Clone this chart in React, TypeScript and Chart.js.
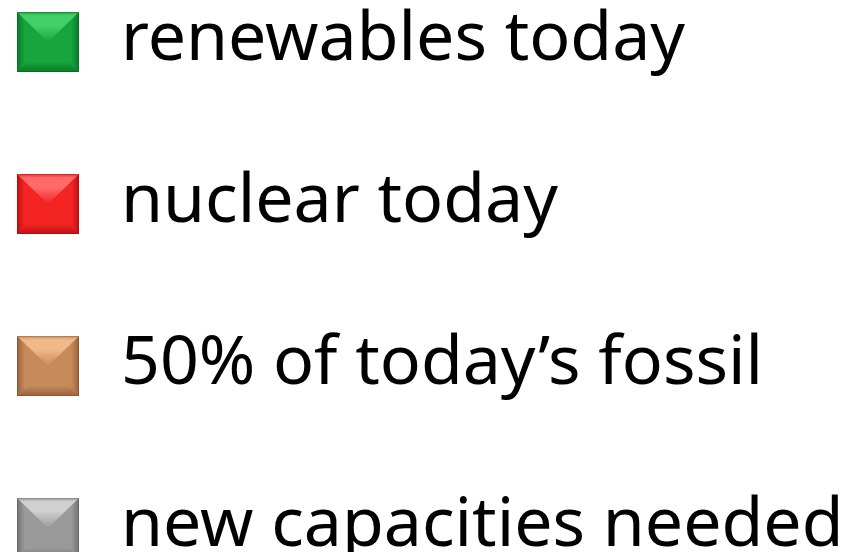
import { useEffect, useRef } from "react";
import { Chart, registerables } from "chart.js";

Chart.register(...registerables);

// Legend entries (the reference shows only the legend of the chart)
const seriesLabels = [
  "renewables today",
  "nuclear today",
  "50% of today’s fossil",
  "new capacities needed",
];
const baseColors = ["#18a53d", "#f42424", "#c78a5a", "#9a9a9a"];
const lightColors = ["#45cf69", "#ff6a6a", "#efb98b", "#d0d0d0"];
const darkColors = ["#0a7a28", "#bf1010", "#9a623a", "#737373"];
const categories: string[] = [""];

function makeBevel(base: string, light: string, dark: string): HTMLCanvasElement {
  const c = document.createElement("canvas");
  c.width = 62;
  c.height = 80;
  const ctx = c.getContext("2d") as CanvasRenderingContext2D;
  const x0 = 0;
  const y0 = 11;
  const w = 62;
  const h = 60;
  const cx = x0 + w / 2;
  const cy = y0 + h / 2;
  ctx.fillStyle = base;
  ctx.fillRect(x0, y0, w, h);

  // left facet
  let g = ctx.createLinearGradient(x0, 0, cx, 0);
  g.addColorStop(0, dark);
  g.addColorStop(0.25, base);
  g.addColorStop(1, base);
  ctx.beginPath();
  ctx.moveTo(x0, y0);
  ctx.lineTo(cx, cy);
  ctx.lineTo(x0, y0 + h);
  ctx.closePath();
  ctx.fillStyle = g;
  ctx.fill();

  // right facet
  g = ctx.createLinearGradient(x0 + w, 0, cx, 0);
  g.addColorStop(0, dark);
  g.addColorStop(0.25, base);
  g.addColorStop(1, base);
  ctx.beginPath();
  ctx.moveTo(x0 + w, y0);
  ctx.lineTo(cx, cy);
  ctx.lineTo(x0 + w, y0 + h);
  ctx.closePath();
  ctx.fillStyle = g;
  ctx.fill();

  // top facet (highlight)
  g = ctx.createLinearGradient(0, y0, 0, cy);
  g.addColorStop(0, base);
  g.addColorStop(0.12, light);
  g.addColorStop(0.45, light);
  g.addColorStop(1, base);
  ctx.beginPath();
  ctx.moveTo(x0, y0);
  ctx.lineTo(x0 + w, y0);
  ctx.lineTo(cx, cy);
  ctx.closePath();
  ctx.fillStyle = g;
  ctx.fill();

  // bottom facet (shadow)
  g = ctx.createLinearGradient(0, cy, 0, y0 + h);
  g.addColorStop(0, base);
  g.addColorStop(0.65, base);
  g.addColorStop(1, dark);
  ctx.beginPath();
  ctx.moveTo(x0, y0 + h);
  ctx.lineTo(x0 + w, y0 + h);
  ctx.lineTo(cx, cy);
  ctx.closePath();
  ctx.fillStyle = g;
  ctx.fill();

  // soft rim
  ctx.strokeStyle = "rgba(0,0,0,0.12)";
  ctx.lineWidth = 1;
  ctx.strokeRect(x0 + 0.5, y0 + 0.5, w - 1, h - 1);
  return c;
}

export default function App() {
  const ref = useRef<HTMLCanvasElement | null>(null);

  useEffect(() => {
    if (!ref.current) return;
    const images = seriesLabels.map((_, i) =>
      makeBevel(baseColors[i], lightColors[i], darkColors[i])
    );
    const chart = new Chart(ref.current, {
      type: "bar",
      data: {
        labels: categories,
        datasets: seriesLabels.map((label, i) => ({
          label,
          data: [] as number[],
          backgroundColor: baseColors[i],
        })),
      },
      options: {
        responsive: false,
        animation: false,
        layout: { padding: { left: -85, top: -87, right: 0, bottom: 0 } },
        scales: {
          x: { display: false },
          y: { display: false },
        },
        plugins: {
          tooltip: { enabled: false },
          legend: {
            display: true,
            position: "top",
            align: "start",
            maxHeight: 2000,
            labels: {
              usePointStyle: true,
              pointStyleWidth: 78,
              padding: 94,
              color: "#000000",
              font: { family: "'Noto Sans'", size: 68 },
              generateLabels: (ch) =>
                ch.data.datasets.map((ds, i) => ({
                  text: ds.label as string,
                  fillStyle: baseColors[i],
                  strokeStyle: baseColors[i],
                  lineWidth: 0,
                  pointStyle: images[i],
                  hidden: false,
                  datasetIndex: i,
                  fontColor: "#000000",
                })),
            },
          },
        },
      },
    });
    return () => chart.destroy();
  }, []);

  return (
    <div style={{ position: "absolute", left: 0, top: 0, width: 852, height: 552, background: "#ffffff" }}>
      <canvas ref={ref} width={852} height={552} style={{ display: "block" }} />
    </div>
  );
}
